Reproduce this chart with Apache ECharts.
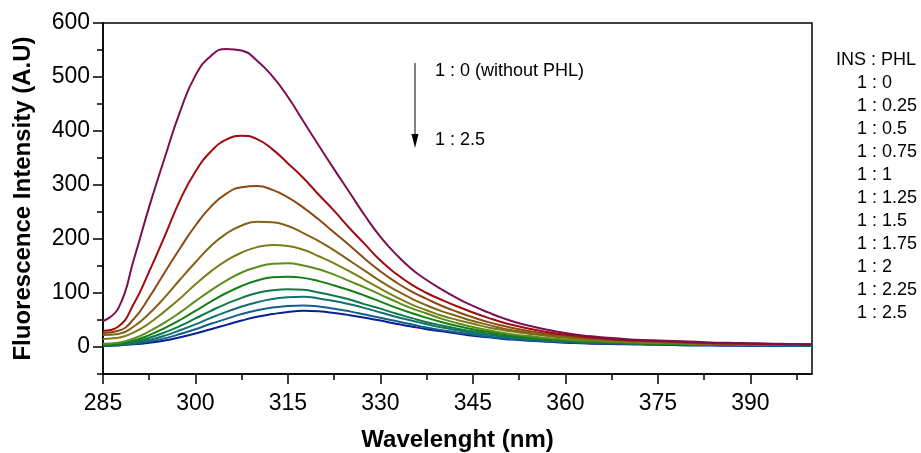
<!DOCTYPE html>
<html><head><meta charset="utf-8">
<script src="https://cdn.jsdelivr.net/npm/echarts@6/dist/echarts.min.js"></script>
<style>html,body{margin:0;padding:0;background:#fff}#c{width:921px;height:453px}</style>
</head><body><div id="c"></div>
<script>
const wavelengths = [285, 287.5, 290, 292.5, 295, 297.5, 300, 302.5, 305, 307.5, 310, 312.5, 315, 317.5, 320, 322.5, 325, 327.5,
  330, 332.5, 335, 337.5, 340, 342.5, 345, 347.5, 350, 352.5, 355, 357.5, 360, 362.5, 365, 367.5, 370, 372.5, 375, 377.5, 380, 382.5, 385, 387.5, 390, 392.5, 395, 397.5, 400];
const ratios = ['1 : 0', '1 : 0.25', '1 : 0.5', '1 : 0.75', '1 : 1', '1 : 1.25', '1 : 1.5', '1 : 1.75', '1 : 2', '1 : 2.25', '1 : 2.5'];
const r0   = [48, 72, 162, 260, 350, 436, 503, 539, 552, 549, 530, 501, 463, 418, 373, 329, 286, 243,
  204, 172, 145, 124, 106, 90, 76, 64, 53, 44, 37, 31, 26, 22, 19, 16.5, 14.5, 13, 12, 11, 10, 9, 8, 7.5, 7, 6.5, 6, 5.5, 5];
const r025 = [30, 38, 80, 140, 205, 272, 325, 362, 384, 391, 385, 366, 340, 313, 282, 252, 220, 190,
  160, 136, 116, 100, 87, 75, 64, 54, 45, 38, 32, 27, 23, 20, 17, 15, 13, 12, 11, 10, 9, 8, 7, 6.5, 6, 5.5, 5, 4.5, 4];
const r05  = [26, 30, 52, 92, 138, 183, 225, 260, 284, 296, 298, 291, 277, 258, 236, 212, 188, 163,
  140, 120, 103, 89, 76, 65, 55, 46, 39, 33, 28, 24, 21, 18, 16, 14, 12, 11, 10, 9, 8, 7, 6.5, 6, 5.5, 5, 4.5, 4, 4];
const r075 = [22, 24, 38, 62, 92, 125, 157, 187, 210, 225, 232, 231, 224, 211, 196, 179, 160, 141,
  122, 105, 90, 77, 66, 57, 48, 41, 34, 29, 25, 21, 19, 16, 14, 12.5, 11, 10, 9, 8, 7.5, 7, 6, 5.5, 5, 5, 4.5, 4, 4];
const r1   = [15, 17, 27, 44, 66, 90, 116, 140, 160, 175, 185, 189, 187, 180, 168, 155, 140, 124,
  108, 93, 79, 68, 58, 50, 43, 36, 31, 27, 23, 20, 17, 15, 13, 11.5, 10, 9, 8.5, 8, 7, 6.5, 6, 5.5, 5, 4.5, 4.5, 4, 4];
const r125 = [6, 8, 16, 29, 45, 64, 85, 105, 123, 138, 148, 154, 155, 151, 144, 134, 122, 110,
  97, 84, 72, 62, 52, 44, 37, 31, 26, 22, 19, 16, 14, 12, 11, 9.5, 8.5, 8, 7, 6.5, 6, 5.5, 5, 5, 4.5, 4.5, 4, 4, 4];
const r15  = [5, 6, 12, 22, 35, 50, 67, 84, 100, 113, 123, 129, 130, 128, 122, 114, 105, 95,
  84, 73, 63, 54, 46, 39, 33, 28, 24, 20, 17, 14.5, 12.5, 11, 10, 9, 8, 7, 6.5, 6, 5.5, 5, 4.5, 4.5, 4, 4, 3.5, 3.5, 3];
const r175 = [4, 5, 9, 17, 27, 39, 53, 67, 80, 91, 100, 105, 107, 106, 101, 95, 88, 79,
  71, 62, 54, 46, 40, 34, 29, 25, 21, 18, 15, 13, 11, 10, 9, 8, 7, 6.5, 6, 5.5, 5, 4.5, 4.5, 4, 4, 3.5, 3.5, 3, 3];
const r2   = [3, 4, 7, 13, 21, 31, 42, 54, 65, 75, 83, 89, 92, 93, 90, 85, 79, 72,
  64, 56, 49, 42, 36, 31, 26, 22, 19, 16, 14, 12, 10, 9, 8, 7, 6.5, 6, 5.5, 5, 4.5, 4, 4, 3.5, 3.5, 3, 3, 3, 3];
const r225 = [3, 4, 6, 10, 16, 24, 33, 43, 52, 61, 68, 73, 76, 77, 75, 71, 66, 60,
  54, 48, 42, 36, 31, 27, 23, 19, 16, 14, 12, 10.5, 9, 8, 7, 6.5, 6, 5.5, 5, 4.5, 4, 3.5, 3.5, 3, 3, 3, 2.5, 2.5, 2.5];
const r25  = [2, 3, 5, 8, 12, 18, 25, 33, 41, 49, 56, 61, 65, 67, 66, 63, 59, 54,
  49, 43, 38, 33, 29, 25, 21, 18, 15, 13, 11, 9.5, 8, 7, 6, 5.5, 5, 4.5, 4, 3.5, 3, 3, 2.5, 2.5, 2, 2, 2, 2, 2];
const seriesValues = [r0, r025, r05, r075, r1, r125, r15, r175, r2, r225, r25];
const colors = ['#7b0f52', '#a00a10', '#8b4a14', '#836416', '#7c7c1a', '#5e8c1a', '#128012', '#0e7a48', '#117070', '#14608a', '#0a1e96'];
const xMajor = [285, 300, 315, 330, 345, 360, 375, 390];
const xMinor = [292.5, 307.5, 322.5, 337.5, 352.5, 367.5, 382.5, 397.5];
const yMajor = [0, 100, 200, 300, 400, 500, 600];
const yMinor = [-50, 50, 150, 250, 350, 450, 550];

const FONT = '"Liberation Sans", Arial, sans-serif';
const chart = echarts.init(document.getElementById('c'), null, {renderer: 'canvas'});

const series = [];
for (let i = seriesValues.length - 1; i >= 0; i--) {
  series.push({
    name: ratios[i], type: 'line', xAxisIndex: 0, yAxisIndex: 0,
    data: wavelengths.map((w, k) => [w, seriesValues[i][k]]),
    showSymbol: false, smooth: 0.5,
    lineStyle: {width: 2, color: colors[i]}, itemStyle: {color: colors[i]}
  });
}

const legendGraphics = [{
  type: 'text', x: 836, y: 60,
  style: {text: 'INS : PHL', font: '18px ' + FONT, fill: '#000', verticalAlign: 'middle'}
}];
ratios.forEach((r, i) => legendGraphics.push({
  type: 'text', x: 857, y: 83 + i * 23,
  style: {text: r, font: '18px ' + FONT, fill: '#000', verticalAlign: 'middle'}
}));

const axisLine = {show: true, onZero: false, lineStyle: {color: '#000', width: 1.5}};
chart.setOption({
  animation: false,
  backgroundColor: '#fff',
  grid: {left: 103, right: 109, top: 23, bottom: 79, show: true, borderColor: '#000', borderWidth: 1.5,
         containLabel: false, outerBoundsMode: 'none'},
  xAxis: [{
    type: 'value', min: 285, max: 400, position: 'bottom',
    name: 'Wavelenght (nm)', nameLocation: 'middle', nameGap: 54,
    nameTextStyle: {fontFamily: FONT, fontSize: 24, fontWeight: 'bold', color: '#000'},
    axisLine: axisLine,
    axisTick: {show: true, length: 10, lineStyle: {color: '#000', width: 1.5}, customValues: xMajor},
    axisLabel: {fontFamily: FONT, fontSize: 23, color: '#000', margin: 18, customValues: xMajor},
    splitLine: {show: false}
  }, {
    type: 'value', min: 285, max: 400, position: 'bottom',
    axisLine: {show: false, onZero: false},
    axisTick: {show: true, length: 6, lineStyle: {color: '#000', width: 1.5}, customValues: xMinor},
    axisLabel: {show: false}, splitLine: {show: false}
  }],
  yAxis: [{
    type: 'value', min: -50, max: 600, position: 'left',
    name: 'Fluorescence Intensity (A.U)', nameLocation: 'middle', nameGap: 68,
    nameTextStyle: {fontFamily: FONT, fontSize: 24, fontWeight: 'bold', color: '#000'},
    axisLine: axisLine,
    axisTick: {show: true, length: 10, lineStyle: {color: '#000', width: 1.5}, customValues: yMajor},
    axisLabel: {fontFamily: FONT, fontSize: 23, color: '#000', margin: 13, customValues: yMajor},
    splitLine: {show: false}
  }, {
    type: 'value', min: -50, max: 600, position: 'left',
    axisLine: {show: false, onZero: false},
    axisTick: {show: true, length: 6, lineStyle: {color: '#000', width: 1.5}, customValues: yMinor},
    axisLabel: {show: false}, splitLine: {show: false}
  }],
  series: series,
  graphic: legendGraphics.concat([
    {type: 'line', shape: {x1: 415, y1: 63, x2: 415, y2: 140}, style: {stroke: '#000', lineWidth: 1}},
    {type: 'polygon', shape: {points: [[411.5, 134], [418.5, 134], [415, 148]]}, style: {fill: '#000'}},
    {type: 'text', x: 435, y: 71, style: {text: '1 : 0 (without PHL)', font: '18px ' + FONT, fill: '#000', verticalAlign: 'middle'}},
    {type: 'text', x: 435, y: 140, style: {text: '1 : 2.5', font: '18px ' + FONT, fill: '#000', verticalAlign: 'middle'}}
  ])
});
</script></body></html>
